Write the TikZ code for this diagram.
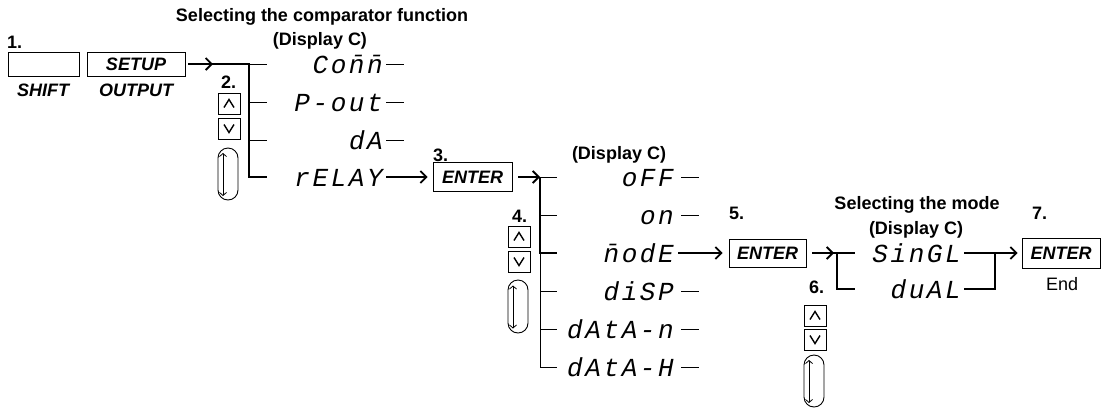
\documentclass[tikz,border=0pt]{standalone}
\usepackage{fontspec}
\setmainfont{Liberation Sans}
\newfontfamily\segfont[LetterSpace=10]{Liberation Mono}
\usetikzlibrary{arrows.meta}
\tikzset{
  lbl/.style={inner sep=0, font=\bfseries\fontsize{18}{20}\selectfont},
  numlbl/.style={lbl, anchor=base west},
  keytxt/.style={inner sep=0, anchor=base, font=\bfseries\itshape\fontsize{18}{20}\selectfont},
  keybox/.style={draw, line width=0.9, inner sep=0, font=\bfseries\itshape\fontsize{18}{20}\selectfont},
  seg/.style={inner sep=0, anchor=base east, font=\segfont\itshape\fontsize{26}{28}\selectfont},
  thk/.style={line width=2.6, line join=miter},
  thn/.style={line width=0.9},
  arr/.style={line width=1.8, -{Straight Barb[length=6,width=12]}},
  updn/.style={draw, line width=0.9, minimum width=22, minimum height=21, inner sep=0},
  chev/.style={line width=1.4},
  dial/.style={draw, line width=0.9, rounded corners=10, minimum width=20, inner sep=0},
  dialarr/.style={line width=0.8, {Straight Barb[length=3,width=7]}-{Straight Barb[length=3,width=7]}},
}
\begin{document}
\begin{tikzpicture}[x=1pt,y=-1pt]
\useasboundingbox (0,0) rectangle (1102,408);

% ---- step 1
\node[numlbl] (n1) at (7,48) {1.};
\node[keybox, minimum width=71, minimum height=24] (shift) at (43.5,64) {};
\node[keybox, minimum width=98, minimum height=24] (setup) at (136,64) {SETUP};
\node[keytxt] (shiftl) at (43,96.5) {SHIFT};
\node[keytxt] (outl) at (136,96.5) {OUTPUT};

% ---- headings
\node[lbl, anchor=base] (h1) at (322,21) {Selecting the comparator function};
\node[lbl, anchor=base] (dc1) at (320,45) {(Display C)};
\node[lbl, anchor=base] (dc2) at (619,159.5) {(Display C)};
\node[lbl, anchor=base] (h3) at (917,209.5) {Selecting the mode};
\node[lbl, anchor=base] (dc3) at (916,234.5) {(Display C)};

% ---- column 1 items
\node[seg] (comm) at (383,73) {Co\=n\=n};
\node[seg] (pout) at (383,111) {P-out};
\node[seg] (da) at (383,149) {dA};
\node[seg] (relay) at (383,186) {rELAY};

\coordinate (a1) at (213,64);
\coordinate (t1a) at (249,64);
\coordinate (t1b) at (249,102);
\coordinate (t1c) at (249,140);
\coordinate (t1d) at (249,177);
\draw[arr] (setup.east) ++(3,0) -- (a1);
\draw[thk] ([xshift=-5]a1) -- (t1a) -- (t1d) -- ++(18,0);
\draw[thn] (t1a) -- ++(18,0);
\draw[thn] (t1b) -- ++(18,0);
\draw[thn] (t1c) -- ++(18,0);
\draw[thn] (comm.base east) ++(3,-9) -- ++(18,0);
\draw[thn] (pout.base east) ++(3,-9) -- ++(18,0);
\draw[thn] (da.base east) ++(3,-9) -- ++(18,0);

% ---- step 2 dial
\node[lbl, anchor=base west] (n2) at (221,88) {2.};
\node[updn] (u2) at (229,103.5) {};
\node[updn] (d2) at (229,128.5) {};
\node[dial, minimum height=52] (k2) at (228,174) {};
\draw[chev] ([shift={(-5,4)}]u2.center) -- ([shift={(0,-4)}]u2.center) -- ([shift={(5,4)}]u2.center);
\draw[chev] ([shift={(-5,-4)}]d2.center) -- ([shift={(0,4)}]d2.center) -- ([shift={(5,-4)}]d2.center);
\draw[dialarr] ([shift={(-5,-21)}]k2.center) -- ([shift={(-5,22)}]k2.center);

% ---- step 3
\node[numlbl] (n3) at (433,161) {3.};
\node[keybox, minimum width=79, minimum height=29] (ent3) at (472.5,177) {ENTER};
\draw[arr, shorten >=5] (relay.base east) ++(3,-9) -- (ent3.west);

% ---- column 2 items
\node[seg] (off) at (674,186) {oFF};
\node[seg] (on) at (674,224) {on};
\node[seg] (mode) at (674,262) {\=nodE};
\node[seg] (disp) at (674,300) {diSP};
\node[seg] (datan) at (674,338) {dAtA-n};
\node[seg] (datah) at (674,376) {dAtA-H};

\coordinate (t2a) at (540,177);
\coordinate (t2b) at (540,215);
\coordinate (t2c) at (540,253);
\coordinate (t2d) at (540,291);
\coordinate (t2e) at (540,329);
\coordinate (t2f) at (540,367);
\draw[arr] (ent3.east) ++(6,0) -- (t2a);
\draw[thk] (t2a) -- (t2c) -- ++(17,0);
\draw[thn] (t2c) -- (t2f) -- ++(17,0);
\draw[thn] (t2a) -- ++(17,0);
\draw[thn] (t2b) -- ++(17,0);
\draw[thn] (t2d) -- ++(17,0);
\draw[thn] (t2e) -- ++(17,0);
\draw[thn] (off.base east) ++(7,-9) -- ++(18,0);
\draw[thn] (on.base east) ++(7,-9) -- ++(18,0);
\draw[thn] (disp.base east) ++(7,-9) -- ++(18,0);
\draw[thn] (datan.base east) ++(7,-9) -- ++(18,0);
\draw[thn] (datah.base east) ++(7,-9) -- ++(18,0);

% ---- step 4 dial
\node[numlbl] (n4) at (512,222) {4.};
\node[updn] (u4) at (519,236.5) {};
\node[updn] (d4) at (519,261.5) {};
\node[dial, minimum height=53] (k4) at (518,306.5) {};
\draw[chev] ([shift={(-5,4)}]u4.center) -- ([shift={(0,-4)}]u4.center) -- ([shift={(5,4)}]u4.center);
\draw[chev] ([shift={(-5,-4)}]d4.center) -- ([shift={(0,4)}]d4.center) -- ([shift={(5,-4)}]d4.center);
\draw[dialarr] ([shift={(-5,-21)}]k4.center) -- ([shift={(-5,22)}]k4.center);

% ---- step 5
\node[numlbl] (n5) at (729,219) {5.};
\node[keybox, minimum width=77, minimum height=28] (ent5) at (767.5,253) {ENTER};
\draw[arr, shorten >=6] (mode.base east) ++(4,-9) -- (ent5.west);

% ---- column 3
\node[seg] (single) at (961,262) {SinGL};
\node[seg] (dual) at (961,298) {duAL};
\coordinate (a3) at (834,253);
\coordinate (t3a) at (837,253);
\coordinate (t3b) at (837,289);
\coordinate (t4a) at (995,253);
\coordinate (t4b) at (995,289);
\draw[arr] (ent5.east) ++(6,0) -- (a3);
\draw[thk] ([xshift=-6]t3a) -- ++(24,0);
\draw[thk] (t3a) -- (t3b) -- ++(18,0);
\draw[thk] ([shift={(3,-9)}]single.base east) -- (t4a) -- (t4b) -- ([shift={(3,-9)}]dual.base east);

% ---- step 6 dial
\node[numlbl] (n6) at (809,293) {6.};
\node[updn] (u6) at (815,315.5) {};
\node[updn] (d6) at (815,339.5) {};
\node[dial, minimum height=52] (k6) at (814,381) {};
\draw[chev] ([shift={(-5,4)}]u6.center) -- ([shift={(0,-4)}]u6.center) -- ([shift={(5,4)}]u6.center);
\draw[chev] ([shift={(-5,-4)}]d6.center) -- ([shift={(0,4)}]d6.center) -- ([shift={(5,-4)}]d6.center);
\draw[dialarr] ([shift={(-5,-21)}]k6.center) -- ([shift={(-5,22)}]k6.center);

% ---- step 7
\node[numlbl] (n7) at (1032,219) {7.};
\node[keybox, minimum width=78, minimum height=30] (ent7) at (1061,253) {ENTER};
\draw[arr, shorten >=4] (t4a) -- (ent7.west);
\node[inner sep=0, anchor=base, font=\fontsize{18}{20}\selectfont] (endl) at (1062,290) {End};
\end{tikzpicture}
\end{document}
